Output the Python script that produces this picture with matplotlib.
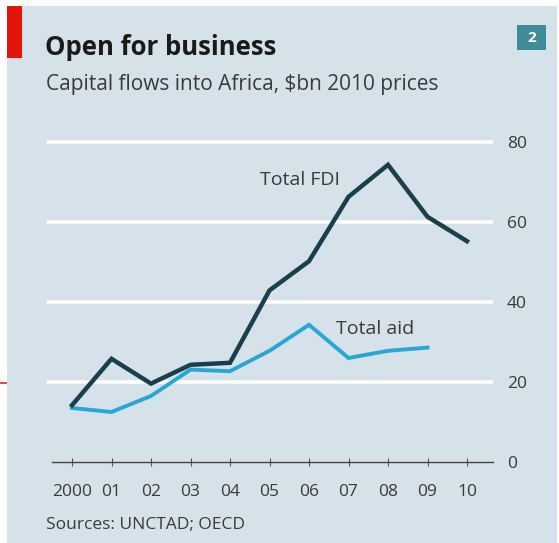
import matplotlib
matplotlib.use("Agg")
import matplotlib.pyplot as plt
from matplotlib.patches import Rectangle

years = [2000, 2001, 2002, 2003, 2004, 2005, 2006, 2007, 2008, 2009, 2010]
year_labels = ["2000", "01", "02", "03", "04", "05", "06", "07", "08", "09", "10"]
fdi = [14.2, 25.8, 19.6, 24.3, 24.8, 42.9, 50.2, 66.3, 74.3, 61.3, 55.2]
aid_years = [2000, 2001, 2002, 2003, 2004, 2005, 2006, 2007, 2008, 2009]
aid = [13.5, 12.5, 16.5, 23.1, 22.7, 27.8, 34.3, 26.0, 27.8, 28.6]
yticks = [0, 20, 40, 60, 80]

W, H = 559, 543
BG = "#d5e2ea"
FDI_C = "#1a3e4c"
AID_C = "#2aa6d6"
TXT = "#3a3a3a"
FONT = ["Open Sans", "DejaVu Sans"]
plt.rcParams["font.family"] = FONT

fig = plt.figure(figsize=(W / 100, H / 100), dpi=100)
fig.patch.set_facecolor("white")

def fx(px):
    return px / W

def fy(py):
    return 1 - py / H

# background panel
fig.patches.append(Rectangle((fx(7), 0), fx(557) - fx(7), fy(6), transform=fig.transFigure,
                             facecolor=BG, edgecolor="none", zorder=-2))
# red tag
fig.patches.append(Rectangle((fx(7), fy(58)), fx(22) - fx(7), fy(6) - fy(58), transform=fig.transFigure,
                             facecolor="#e3120b", edgecolor="none", zorder=-1))
# stray red mark at left edge
fig.patches.append(Rectangle((0, fy(384)), fx(7), 2 / H, transform=fig.transFigure,
                             facecolor="#e05050", edgecolor="none", zorder=-1))
# number box
fig.patches.append(Rectangle((fx(517), fy(50)), fx(546) - fx(517), fy(25) - fy(50), transform=fig.transFigure,
                             facecolor="#3f8b97", edgecolor="none", zorder=-1))
fig.text(fx(531.5), fy(37.5), "2", color="white", fontsize=11, fontweight="bold",
         ha="center", va="center")

fig.text(fx(45), fy(55), "Open for business", fontsize=18.5, fontweight="bold",
         color="#1a1a1a", ha="left", va="baseline")
fig.text(fx(46), fy(90), "Capital flows into Africa, $bn 2010 prices", fontsize=15,
         color=TXT, ha="left", va="baseline")
fig.text(fx(46), fy(529), "Sources: UNCTAD; OECD", fontsize=12.5, color=TXT,
         ha="left", va="baseline")

# axes: x 52..493 px, y 142..462 px
ax = fig.add_axes([fx(52), fy(462), fx(493) - fx(52), (462 - 142) / H])
ax.set_facecolor("none")
xl = 2000 - (72 - 52) / 39.5
xr = 2010 + (493 - 467) / 39.5
ax.set_xlim(xl, xr)
ax.set_ylim(0, 80)

for v in yticks[1:]:
    ax.plot([2000 - (72 - 47) / 39.5, xr], [v, v], color="white", lw=2.6,
            solid_capstyle="butt", clip_on=False, zorder=1)

ax.plot(years, fdi, color=FDI_C, lw=3.2, solid_joinstyle="miter", zorder=3)
ax.plot(aid_years, aid, color=AID_C, lw=2.8, solid_joinstyle="miter", zorder=2)

ax.text(2004.76, 70.5, "Total FDI", fontsize=14, color=TXT, ha="left", va="center")
ax.text(2006.68, 33.3, "Total aid", fontsize=14, color=TXT, ha="left", va="center")

for s in ["top", "left", "right"]:
    ax.spines[s].set_visible(False)
ax.spines["bottom"].set_color("#444444")
ax.spines["bottom"].set_linewidth(1.0)

ax.set_xticks(years)
ax.set_xticklabels(year_labels)
ax.tick_params(axis="x", direction="inout", length=6, width=0.8, color="#555555",
               labelsize=12.5, labelcolor=TXT, pad=13)
ax.yaxis.tick_right()
ax.set_yticks(yticks)
ax.set_yticklabels([str(v) for v in yticks])
ax.tick_params(axis="y", length=0, labelsize=12.5, labelcolor=TXT, pad=10)

fig.savefig("out.png", dpi=100, facecolor=fig.get_facecolor())
